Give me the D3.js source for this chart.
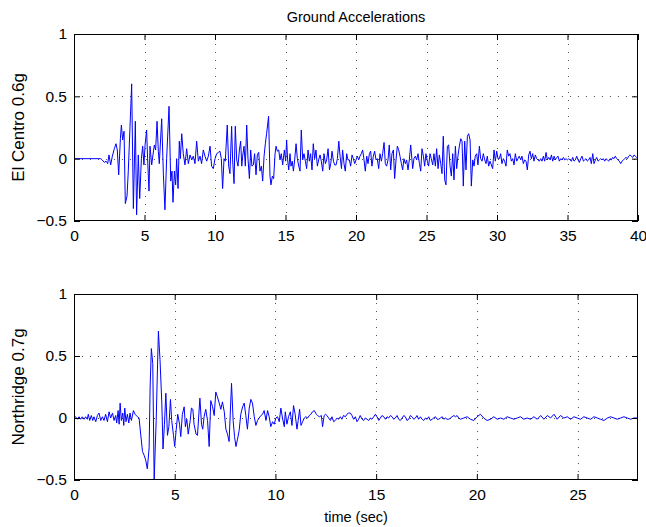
<!DOCTYPE html>
<html><head><meta charset="utf-8">
<script src="https://cdn.jsdelivr.net/npm/d3@7"></script>
<style>
body{margin:0;background:#fff}
svg{display:block}
text{font-family:"Liberation Sans",Arial,Helvetica,sans-serif;fill:#000}
</style></head><body>
<svg id="c" width="646" height="527"></svg>
<script>
// ---- Data (time in s, acceleration in g) ----
const elCentro = [
[0,0],[1.9,0],[2.0,-0.01],[2.15,-0.03],[2.27,-0.02],[2.39,-0.04],[2.48,0.03],[2.6,-0.05],[2.72,0.02],[2.86,0.08],
[2.98,0.12],[3.07,0.07],[3.17,-0.13],[3.29,0.16],[3.36,0.27],[3.45,0.15],[3.55,0.22],[3.64,-0.36],[3.76,-0.30],[3.85,-0.1],
[4.09,0.6],[4.21,-0.40],[4.35,0.30],[4.44,-0.45],[4.56,0.03],[4.66,-0.32],[4.78,0],[4.87,0.10],[4.96,-0.05],[5.04,0.11],
[5.15,0.23],[5.22,0],[5.32,-0.26],[5.39,0.10],[5.51,-0.05],[5.6,0.03],[5.7,0.11],[5.79,0.07],[5.89,0.30],[5.98,0.06],
[6.05,-0.04],[6.22,0.32],[6.34,-0.13],[6.45,-0.41],[6.57,0],[6.74,0.42],[6.86,-0.18],[6.95,-0.10],[7.02,-0.35],[7.12,-0.10],
[7.21,-0.21],[7.28,0],[7.38,-0.24],[7.47,0.14],[7.54,0],[7.64,0.2],[7.75,0.04],[7.87,-0.05],[7.99,0.08],[8.11,-0.04],
[8.23,0.03],[8.35,-0.01],[8.46,0.02],[8.58,-0.04],[8.7,0.14],[8.82,-0.02],[8.94,0.02],[9.05,-0.04],[9.17,0.07],[9.29,0.02],
[9.41,-0.02],[9.53,0.02],[9.65,0.1],[9.76,-0.06],[9.88,-0.08],[10.0,0],[10.12,0.04],[10.24,0.05],[10.35,0.06],[10.45,0.0],
[10.54,-0.24],[10.64,0],[10.73,-0.02],[10.87,0.27],[10.97,-0.06],[11.06,-0.12],[11.18,0.26],[11.25,-0.01],[11.35,-0.2],[11.44,0.26],
[11.54,-0.01],[11.63,-0.06],[11.73,0.07],[11.82,0.14],[11.9,-0.06],[11.96,0.02],[12.06,0.1],[12.15,-0.06],[12.25,0.27],[12.34,0],
[12.44,-0.16],[12.53,0.07],[12.62,-0.06],[12.72,-0.05],[12.81,0.04],[12.91,-0.13],[13.0,0.03],[13.1,0.05],[13.19,-0.1],[13.29,-0.06],
[13.38,-0.18],[13.48,0.02],[13.57,0.12],[13.66,0.2],[13.8,0.34],[13.9,-0.14],[13.97,-0.21],[14.07,-0.14],[14.16,-0.16],[14.26,0.04],
[14.33,0.1],[14.42,0.06],[14.52,0.07],[14.61,-0.01],[14.7,0.04],[14.8,-0.05],[14.92,0.07],[15.01,-0.02],[15.08,0.15],[15.15,-0.01],
[15.23,-0.09],[15.32,0.04],[15.39,-0.06],[15.48,-0.02],[15.56,-0.1],[15.65,-0.01],[15.75,0.12],[15.84,0],[15.94,-0.06],[16.03,-0.1],
[16.12,0.23],[16.22,-0.01],[16.31,0.04],[16.41,-0.02],[16.5,-0.08],[16.6,0.07],[16.69,-0.02],[16.78,0.04],[16.88,-0.09],[16.97,0.12],
[17.07,0],[17.16,0.07],[17.26,-0.06],[17.35,-0.01],[17.45,0.03],[17.54,-0.02],[17.64,-0.1],[17.73,0.04],[17.83,-0.04],[17.92,-0.01],
[18.02,0.08],[18.12,-0.09],[18.21,-0.04],[18.3,0.06],[18.4,-0.02],[18.49,-0.05],[18.59,-0.05],[18.68,0],[18.78,0.14],[18.87,0.02],
[18.97,-0.08],[19.05,0.07],[19.15,-0.04],[19.24,-0.1],[19.34,0.04],[19.43,-0.01],[19.53,-0.01],[19.62,-0.06],[19.72,0.03],[19.81,0],
[19.91,-0.04],[20.0,-0.01],[20.1,0.02],[20.19,-0.01],[20.28,0.02],[20.38,0.04],[20.47,0.07],[20.57,-0.01],[20.66,-0.1],[20.76,0.02],
[20.85,-0.04],[20.95,0.04],[21.04,0.06],[21.13,-0.06],[21.23,0.02],[21.32,0.06],[21.42,-0.01],[21.51,0],[21.61,-0.08],[21.7,0.04],
[21.8,-0.02],[21.89,0.04],[21.99,0.13],[22.08,-0.04],[22.17,-0.06],[22.27,-0.01],[22.36,0.11],[22.46,-0.09],[22.55,0.04],[22.65,0.07],
[22.74,-0.16],[22.84,-0.01],[22.93,0.1],[23.03,0.07],[23.12,0.02],[23.22,-0.04],[23.31,-0.09],[23.4,0],[23.5,-0.04],[23.59,-0.01],
[23.69,-0.09],[23.78,-0.01],[23.88,0.11],[24.02,-0.08],[24.11,0],[24.21,0.02],[24.3,-0.01],[24.4,0.04],[24.5,-0.04],[24.59,-0.1],
[24.68,0.08],[24.78,0.02],[24.87,-0.06],[24.96,0.04],[25.06,-0.02],[25.15,-0.06],[25.25,0.04],[25.34,0],[25.44,-0.05],[25.53,0.04],
[25.63,-0.06],[25.72,0.08],[25.82,-0.08],[25.91,0.03],[26.01,-0.04],[26.1,-0.12],[26.19,0.18],[26.29,-0.17],[26.38,-0.21],[26.48,0.1],
[26.57,0.11],[26.67,-0.06],[26.76,-0.14],[26.86,0.04],[26.95,-0.17],[27.05,0.1],[27.14,-0.08],[27.23,0.02],[27.33,0.1],[27.43,0.16],
[27.52,0.14],[27.61,-0.22],[27.71,0.14],[27.8,-0.09],[27.9,0.18],[27.99,0.2],[28.09,0.15],[28.18,-0.22],[28.28,-0.01],[28.37,-0.06],
[28.46,0.02],[28.56,0.04],[28.65,-0.05],[28.75,0.1],[28.84,0],[28.94,-0.02],[29.03,0.04],[29.13,-0.01],[29.22,-0.04],[29.31,0.02],
[29.41,-0.06],[29.5,-0.02],[29.6,-0.05],[29.69,-0.08],[29.79,0.07],[29.88,-0.02],[29.98,0.06],[30.07,0],[30.17,0],[30.26,0.04],
[30.35,-0.04],[30.45,0],[30.54,-0.02],[30.64,-0.06],[30.73,0.07],[30.83,0.02],[30.92,0.04],[31.02,-0.02],[31.11,0],[31.21,-0.05],
[31.3,0.04],[31.4,-0.02],[31.49,0],[31.58,0.02],[31.68,-0.01],[31.77,0.02],[31.87,-0.04],[31.96,-0.01],[32.06,-0.02],[32.15,-0.09],
[32.25,0.03],[32.34,0.06],[32.44,0],[32.53,0.04],[32.62,-0.02],[32.72,0.03],[32.81,0],[32.91,-0.01],[33.0,-0.02],[33.1,0],
[33.19,-0.02],[33.29,0.02],[33.38,-0.02],[33.48,0.05],[33.57,-0.01],[33.67,0.01],[33.77,-0.01],[33.86,0.03],[33.95,-0.02],[34.05,0.02],
[34.14,-0.01],[34.24,0.01],[34.33,0.02],[34.42,-0.02],[34.52,0],[34.61,-0.01],[34.71,0.01],[34.8,-0.01],[34.9,0],[34.99,-0.01],
[35.09,0],[35.18,-0.01],[35.28,-0.02],[35.37,0.01],[35.46,-0.02],[35.56,-0.01],[35.65,0.02],[35.75,-0.01],[35.84,-0.03],[35.94,0],
[36.03,0.02],[36.13,-0.02],[36.22,-0.01],[36.31,0],[36.41,-0.02],[36.5,-0.01],[36.6,0.01],[36.69,-0.04],[36.79,0.04],[36.88,-0.04],
[36.98,-0.01],[37.07,0.01],[37.17,-0.02],[37.26,-0.01],[37.35,0],[37.45,-0.01],[37.54,0],[37.64,-0.02],[37.73,0],[37.83,-0.01],
[37.92,-0.02],[38.02,0],[38.11,-0.01],[38.2,0.01],[38.3,0],[38.39,0.02],[38.49,0],[38.58,-0.01],[38.68,-0.02],[38.77,-0.04],
[38.87,-0.02],[38.96,-0.01],[39.06,0],[39.15,0.01],[39.25,0],[39.34,0.02],[39.43,0.03],[39.53,0.02],[39.62,0.01],[39.72,0.03],
[39.81,0.02],[39.91,0.01],[40.0,0.02]
];

const northridge = [
[0,0],[0.08,0.01],[0.17,-0.01],[0.25,0.01],[0.33,-0.01],[0.41,0.01],[0.5,-0.01],[0.58,0.01],[0.66,-0.01],[0.71,0.03],
[0.78,-0.02],[0.86,0.02],[0.93,-0.02],[0.99,0.01],[1.08,-0.03],[1.16,0.02],[1.24,0.04],[1.33,-0.02],[1.41,0.01],[1.49,-0.02],
[1.57,0.03],[1.66,-0.03],[1.74,0.05],[1.82,0],[1.91,0.04],[1.99,-0.02],[2.07,0.02],[2.12,-0.04],[2.19,0.06],[2.24,-0.05],
[2.29,0.12],[2.35,-0.02],[2.42,0.04],[2.47,-0.06],[2.52,0.08],[2.58,-0.03],[2.65,0.03],[2.72,-0.04],[2.78,0.04],[2.85,-0.02],
[2.95,0.06],[3.03,0.03],[3.15,0.01],[3.23,0],[3.31,-0.13],[3.4,-0.27],[3.48,-0.3],[3.56,-0.34],[3.64,-0.41],[3.73,-0.24],
[3.78,0.25],[3.84,0.56],[3.91,0.44],[3.98,-0.5],[4.08,-0.02],[4.19,0.7],[4.27,0.47],[4.36,0.12],[4.42,-0.25],[4.49,-0.05],
[4.56,0.2],[4.64,-0.14],[4.71,-0.07],[4.79,0.15],[4.85,-0.02],[4.94,-0.14],[5.0,-0.23],[5.07,-0.1],[5.15,0.03],[5.24,-0.05],
[5.3,-0.15],[5.38,0.03],[5.47,0.09],[5.53,-0.07],[5.6,-0.01],[5.67,-0.13],[5.77,-0.02],[5.83,0.08],[5.9,0.07],[5.96,-0.05],
[6.06,-0.13],[6.13,-0.14],[6.25,0.16],[6.33,-0.05],[6.39,-0.09],[6.46,0.01],[6.54,0.07],[6.63,-0.02],[6.71,-0.23],[6.79,0.14],
[6.88,0.09],[6.96,0.02],[7.04,0.21],[7.12,0.17],[7.21,0.12],[7.29,0.07],[7.37,0.13],[7.46,0.05],[7.54,-0.09],[7.62,-0.13],
[7.7,-0.19],[7.82,0.28],[7.9,-0.02],[7.97,-0.15],[8.04,-0.23],[8.12,-0.17],[8.2,-0.1],[8.28,0.03],[8.37,0.09],[8.45,0.12],
[8.53,0.02],[8.61,-0.09],[8.7,0.08],[8.78,0.15],[8.86,0.12],[8.95,0.01],[9.03,-0.06],[9.11,-0.02],[9.19,0],[9.28,0.02],
[9.36,0.03],[9.44,0.06],[9.53,-0.02],[9.61,0.06],[9.69,0.01],[9.77,-0.07],[9.86,-0.03],[9.94,-0.05],[10.02,0],[10.1,0.01],
[10.19,-0.03],[10.27,0.08],[10.35,0],[10.44,-0.07],[10.49,0.05],[10.57,-0.05],[10.65,0.01],[10.74,0.05],[10.82,-0.06],[10.9,0.1],
[10.98,0.03],[11.07,-0.09],[11.13,-0.02],[11.2,0.07],[11.27,-0.06],[11.35,-0.03],[11.43,0],[11.51,0.01],[11.6,0],[11.68,0.02],
[11.76,0.03],[11.84,0.05],[11.93,0.06],[12.03,0.03],[12.09,0.02],[12.19,0.01],[12.28,0.02],[12.34,-0.07],[12.42,0.02],[12.49,0.03],
[12.56,0.02],[12.64,0],[12.73,-0.02],[12.81,0.01],[12.89,-0.03],[12.97,-0.02],[13.06,0],[13.14,-0.01],[13.22,0.01],[13.3,-0.01],
[13.38,0.02],[13.47,0.01],[13.55,0.03],[13.63,0.04],[13.72,0.04],[13.8,0.02],[13.88,-0.01],[13.97,0.01],[14.05,-0.03],[14.13,-0.01],
[14.21,0.02],[14.3,-0.01],[14.38,-0.02],[14.46,0],[14.55,-0.01],[14.63,-0.02],[14.71,0],[14.79,-0.01],[14.88,0.01],[14.96,0.03],
[15.04,0.01],[15.13,-0.02],[15.21,0],[15.29,0.02],[15.38,0.01],[15.46,-0.01],[15.54,0.01],[15.62,0],[15.71,0.02],[15.79,0.01],
[15.87,-0.01],[15.95,0],[16.04,0.02],[16.12,-0.01],[16.2,-0.02],[16.29,0],[16.37,0.02],[16.45,0.01],[16.53,-0.02],[16.62,-0.01],
[16.7,0.02],[16.78,0.01],[16.87,-0.01],[16.95,0],[17.03,0.02],[17.11,-0.01],[17.2,0.01],[17.28,-0.01],[17.36,-0.02],[17.45,0],
[17.53,-0.01],[17.61,0.01],[17.69,-0.02],[17.78,-0.01],[17.86,0],[17.94,0.01],[18.03,-0.01],[18.11,-0.01],[18.19,0],[18.28,0.01],
[18.36,-0.01],[18.44,0],[18.52,-0.01],[18.61,-0.01],[18.69,0],[18.77,0.01],[18.86,0.02],[18.94,0.01],[19.02,0.02],[19.1,0],
[19.18,-0.01],[19.35,0],[19.52,0.01],[19.68,-0.01],[19.85,-0.02],[20.01,0.01],[20.18,0.03],[20.34,0],[20.51,-0.02],[20.68,-0.01],
[20.84,0.01],[21.01,-0.01],[21.18,0],[21.34,-0.01],[21.5,0.01],[21.67,0],[21.84,-0.01],[22.0,0],[22.17,0.01],[22.33,-0.01],
[22.5,0],[22.67,-0.01],[22.83,0.01],[23.0,-0.01],[23.17,0.02],[23.33,-0.01],[23.5,0.02],[23.66,0],[23.83,0.03],[23.99,-0.01],
[24.15,0.02],[24.32,0],[24.49,0.01],[24.65,-0.01],[24.82,0.01],[24.98,0],[25.15,-0.01],[25.31,0.01],[25.48,0],[25.65,-0.01],
[25.81,0.01],[25.98,0],[26.14,-0.01],[26.31,-0.02],[26.48,0],[26.64,0.01],[26.81,0],[26.97,-0.01],[27.14,0],[27.3,0.01],
[27.47,0],[27.64,-0.01],[27.8,0],[28.0,0]
];

const elCentroXTicks = [0,5,10,15,20,25,30,35,40];
const northridgeXTicks = [0,5,10,15,20,25];
const yTicks = [-0.5,0,0.5,1];
const yTickLabels = ["\u22120.5","0","0.5","1"];

const titleText = "Ground Accelerations";
const xLabelText = "time (sec)";
const elCentroLabel = "El Centro 0.6g";
const northridgeLabel = "Northridge 0.7g";

// ---- Drawing ----
const svg = d3.select("#c");
const FS_TICK = 15.5, FS_TITLE = 14.5, FS_YLAB = 17;
const L = 74, R = 638;

function panel(id, data, xMax, xTicks, top, bottom, ylabel) {
  const x = d3.scaleLinear().domain([0, xMax]).range([L, R]);
  const y = d3.scaleLinear().domain([-0.5, 1]).range([bottom, top]);
  const g = svg.append("g");

  svg.append("clipPath").attr("id", "clip" + id)
    .append("rect").attr("x", L).attr("y", top).attr("width", R - L).attr("height", bottom - top);

  // grid
  const grid = g.append("g").attr("stroke", "#555").attr("stroke-width", 1).attr("stroke-dasharray", "1,7");
  grid.selectAll("line.vx").data(xTicks.filter(d => d > 0 && d < xMax)).join("line")
    .attr("x1", d => Math.round(x(d)) + 0.5).attr("x2", d => Math.round(x(d)) + 0.5)
    .attr("y1", bottom).attr("y2", top);
  grid.selectAll("line.hy").data(yTicks.filter(d => d > -0.5 && d < 1)).join("line")
    .attr("y1", d => Math.round(y(d)) + 0.5).attr("y2", d => Math.round(y(d)) + 0.5)
    .attr("x1", L).attr("x2", R);

  // series
  const line = d3.line().x(d => x(d[0])).y(d => y(d[1]));
  g.append("path").datum(data).attr("d", line)
    .attr("fill", "none").attr("stroke", "#0000ff").attr("stroke-width", 1)
    .attr("stroke-linejoin", "round").attr("clip-path", "url(#clip" + id + ")");

  // axes with inward ticks
  const ax = d3.axisBottom(x).tickValues(xTicks).tickSize(-6).tickPadding(9).tickFormat(d3.format("d"));
  const axG = g.append("g").attr("transform", `translate(0,${bottom})`).call(ax);
  const axT = g.append("g").attr("transform", `translate(0,${top})`)
    .call(d3.axisTop(x).tickValues(xTicks).tickSize(-6).tickFormat(""));
  const ay = d3.axisLeft(y).tickValues(yTicks).tickSize(-6).tickPadding(7)
    .tickFormat((d, i) => yTickLabels[i]);
  const ayG = g.append("g").attr("transform", `translate(${L},0)`).call(ay);
  const ayR = g.append("g").attr("transform", `translate(${R},0)`)
    .call(d3.axisRight(y).tickValues(yTicks).tickSize(-6).tickFormat(""));
  [axG, axT, ayG, ayR].forEach(a => {
    a.select(".domain").remove();
    a.selectAll(".tick line").attr("stroke", "#000");
    a.selectAll("text").attr("font-size", FS_TICK).attr("font-family", '"Liberation Sans",Arial,sans-serif').attr("fill", "#000");
  });

  // box
  g.append("rect").attr("x", L + 0.5).attr("y", top + 0.5)
    .attr("width", R - L - 1).attr("height", bottom - top - 1)
    .attr("fill", "none").attr("stroke", "#000").attr("stroke-width", 1);

  // y label
  svg.append("text").attr("transform", `translate(24,${(top + bottom) / 2}) rotate(-90)`)
    .attr("text-anchor", "middle").attr("font-size", FS_YLAB).text(ylabel);
  return x;
}

panel("a", elCentro, 40, elCentroXTicks, 34, 221, elCentroLabel);
panel("b", northridge, 28, northridgeXTicks, 294, 480, northridgeLabel);

svg.append("text").attr("x", (L + R) / 2).attr("y", 22).attr("text-anchor", "middle")
  .attr("font-size", FS_TITLE).text(titleText);
svg.append("text").attr("x", (L + R) / 2).attr("y", 522).attr("text-anchor", "middle")
  .attr("font-size", FS_TITLE).text(xLabelText);
</script>
</body></html>
